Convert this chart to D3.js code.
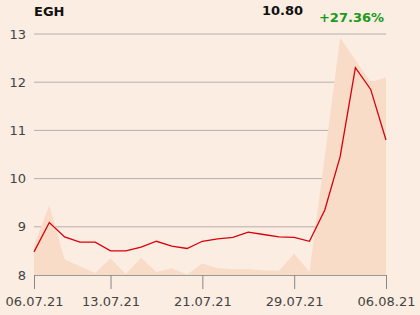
<!DOCTYPE html>
<html>
<head>
<meta charset="utf-8">
<script src="https://cdn.jsdelivr.net/npm/d3@7"></script>
<style>
  body { margin: 0; background: #fbede1; }
  svg { display: block; font-family: "DejaVu Sans", sans-serif; }
</style>
</head>
<body>
<div id="chart"></div>
<script>
// trading days
const dates = ["06.07.21","07.07.21","08.07.21","09.07.21","12.07.21","13.07.21","14.07.21","15.07.21","16.07.21",
  "19.07.21","20.07.21","21.07.21","22.07.21","23.07.21","26.07.21","27.07.21","28.07.21","29.07.21","30.07.21",
  "02.08.21","03.08.21","04.08.21","05.08.21","06.08.21"];
const prices = [8.48, 9.09, 8.79, 8.68, 8.68, 8.50, 8.50, 8.58, 8.70, 8.60, 8.55, 8.70,
  8.75, 8.78, 8.89, 8.84, 8.79, 8.78, 8.70, 9.35, 10.45, 12.30, 11.85, 10.80];
const volumes = [31, 72, 16, 9, 2, 17, 1, 18, 3, 7, 0.5, 12,
  7, 6, 6, 5, 4.5, 22, 3.5, 123, 246, 223, 200, 205];
const tickDates = ["06.07.21","13.07.21","21.07.21","29.07.21","06.08.21"];
const yTicks = [8, 9, 10, 11, 12, 13];

const W = 420, H = 315;
const mLeft = 34, mRight = 386, mTop = 34, mBottom = 275;

const svg = d3.select("#chart").append("svg").attr("width", W).attr("height", H);
svg.append("rect").attr("width", W).attr("height", H).attr("fill", "#fbede1");

const x = d3.scalePoint().domain(dates).range([mLeft, mRight]);
const y = d3.scaleLinear().domain([8, 13]).range([mBottom, mTop]);
const yVol = d3.scaleLinear().domain([0, 250]).range([mBottom, mTop]);

// grid
svg.append("g").selectAll("line")
    .data(yTicks.filter(d => d > 8))
    .enter().append("line")
    .attr("x1", mLeft).attr("x2", mRight)
    .attr("y1", d => y(d)).attr("y2", d => y(d))
    .attr("stroke", "#b5b0ab").attr("stroke-width", 1);

svg.append("g").selectAll("text")
    .data(yTicks)
    .enter().append("text")
    .attr("x", 26).attr("y", d => y(d)).attr("dy", "0.35em")
    .attr("text-anchor", "end")
    .attr("font-size", 13).attr("fill", "#444")
    .text(d => d);

// volume area
const area = d3.area()
    .x((d, i) => x(dates[i]))
    .y0(mBottom)
    .y1(d => yVol(d));
svg.append("path").datum(volumes)
    .attr("d", area)
    .attr("fill", "#f8dcc7");

// price line
const line = d3.line()
    .x((d, i) => x(dates[i]))
    .y(d => y(d));
svg.append("path").datum(prices)
    .attr("d", line)
    .attr("fill", "none")
    .attr("stroke", "#d9000d")
    .attr("stroke-width", 1.3);

// bottom axis
const xAxis = svg.append("g").attr("transform", `translate(0,${mBottom})`)
    .call(d3.axisBottom(x).tickValues(tickDates).tickSize(14).tickPadding(8));
xAxis.select(".domain").attr("stroke", "#999").attr("stroke-width", 1.2).attr("d", `M${mLeft},0.5H${mRight}`);
xAxis.selectAll(".tick line").attr("stroke", "#888");
xAxis.selectAll(".tick text").attr("font-size", 13).attr("fill", "#444").attr("font-family", "DejaVu Sans");

// header
svg.append("text").attr("x", 34).attr("y", 15.5)
    .attr("font-size", 13).attr("font-weight", "bold").attr("fill", "#111").text("EGH");
svg.append("text").attr("x", 303).attr("y", 15)
    .attr("text-anchor", "end")
    .attr("font-size", 13).attr("font-weight", "bold").attr("fill", "#111")
    .text(d3.format(".2f")(prices[prices.length - 1]));
svg.append("text").attr("x", 384).attr("y", 21.5)
    .attr("text-anchor", "end")
    .attr("font-size", 13).attr("font-weight", "bold").attr("fill", "#1a9a1a")
    .text("+" + d3.format(".2f")((prices[prices.length - 1] / prices[0] - 1) * 100) + "%");
</script>
</body>
</html>
